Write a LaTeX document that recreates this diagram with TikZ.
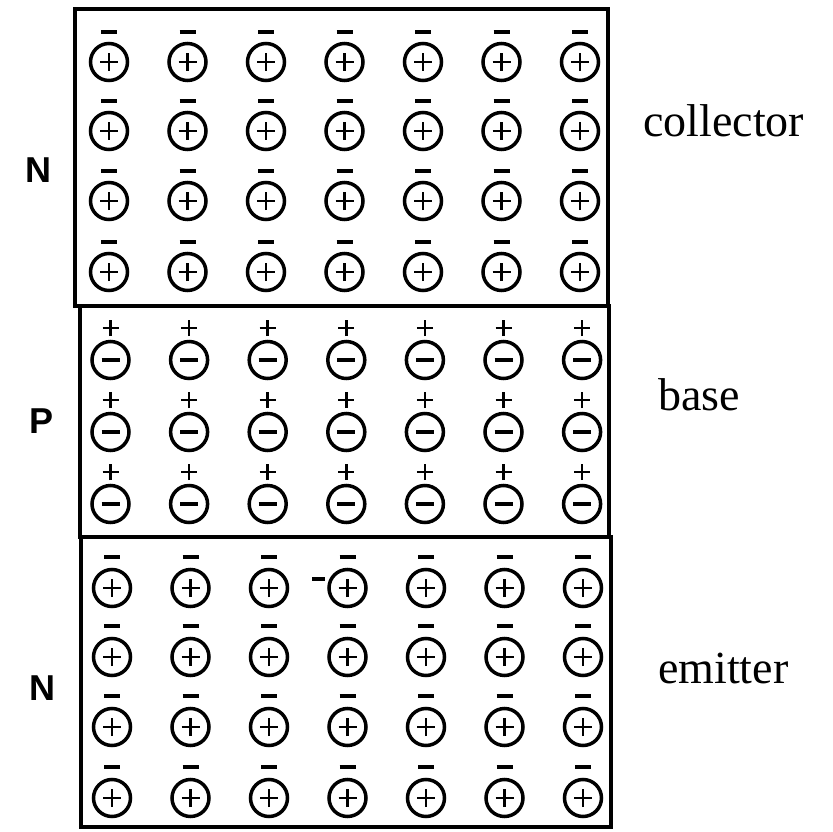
\documentclass[tikz,border=0pt]{standalone}
\usepackage{fontspec}
\setmainfont{Liberation Serif}
\newfontfamily\labelfont{Liberation Sans}
\begin{document}
\begin{tikzpicture}[x=1pt,y=-1pt,
  ion/.style={circle,draw,line width=3.5pt,minimum size=37pt,inner sep=0pt},
  posion/.style={ion,path picture={\draw[line width=2.9pt]
      ([xshift=-9pt]path picture bounding box.center) -- ([xshift=9pt]path picture bounding box.center)
      ([yshift=-9pt]path picture bounding box.center) -- ([yshift=9pt]path picture bounding box.center);}},
  negion/.style={ion,path picture={\draw[line width=3.5pt]
      ([xshift=-9pt]path picture bounding box.center) -- ([xshift=9pt]path picture bounding box.center);}},
  chg/.style={line width=3.4pt},
  region/.style={line width=4.6pt},
  tag/.style={font=\fontsize{46}{50}\selectfont, anchor=base west, inner sep=0pt},
  ptype/.style={font=\labelfont\bfseries\fontsize{36}{40}\selectfont, inner sep=0pt}
]
\useasboundingbox (0,0) rectangle (833,832);

% region boxes
\draw[region] (75,9) rectangle (608,306);
\draw[region] (80,306) rectangle (609,537);
\draw[region] (81,537) rectangle (611,827);

% collector
\foreach \r/\y in {1/62,2/131,3/201,4/272} {
  \foreach \c in {1,...,7} {
    \pgfmathsetmacro\xx{109+78.5*(\c-1)}
    \node[posion] (col-\r-\c) at (\xx,\y) {};
    \draw[chg] ([xshift=-8pt,yshift=30pt]col-\r-\c.center) -- ([xshift=8pt,yshift=30pt]col-\r-\c.center);
  }
}

% base
\foreach \r/\y in {1/360,2/432,3/504} {
  \foreach \c in {1,...,7} {
    \pgfmathsetmacro\xx{110.5+78.6*(\c-1)}
    \node[negion] (bas-\r-\c) at (\xx,\y) {};
    \draw[line width=2.7pt] ([xshift=-8pt,yshift=32pt]bas-\r-\c.center) -- ([xshift=8pt,yshift=32pt]bas-\r-\c.center)
      ([yshift=24pt]bas-\r-\c.center) -- ([yshift=40pt]bas-\r-\c.center);
  }
}

% emitter
\foreach \r/\y in {1/588,2/657,3/727,4/798} {
  \foreach \c in {1,...,7} {
    \pgfmathsetmacro\xx{112+78.5*(\c-1)}
    \node[posion] (emi-\r-\c) at (\xx,\y) {};
    \draw[chg] ([xshift=-8pt,yshift=31pt]emi-\r-\c.center) -- ([xshift=8pt,yshift=31pt]emi-\r-\c.center);
  }
}
\draw[chg] (312,579) -- (325,579);

% labels
\node[ptype] (nc) at (38,170) {N};
\node[ptype] (pb) at (42,421) {P};
\node[ptype] (ne) at (42,688) {N};
\node[tag] (tc) at (643,137) {collector};
\node[tag] (tb) at (658,410) {base};
\node[tag] (te) at (658,683) {emitter};
\end{tikzpicture}
\end{document}
